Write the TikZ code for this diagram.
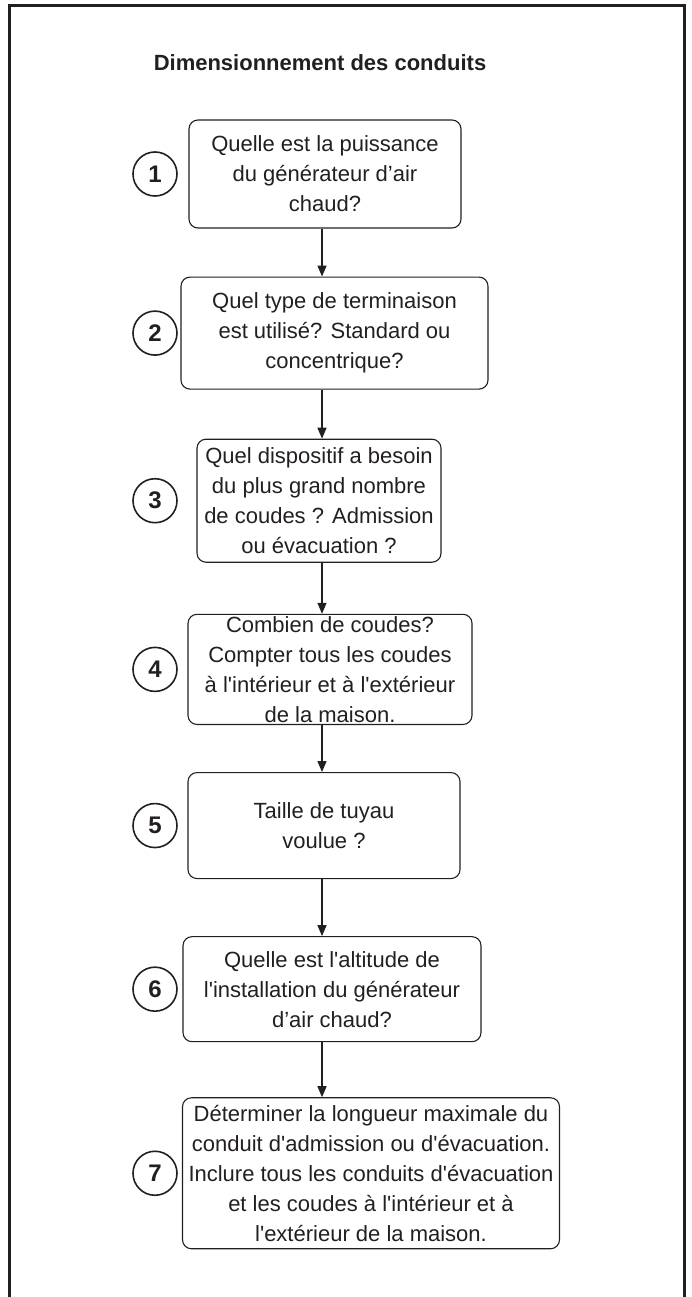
\documentclass[tikz,border=0pt]{standalone}
\usepackage{fontspec}
\setmainfont{Liberation Sans}
\usetikzlibrary{positioning,arrows.meta}
\definecolor{ink}{RGB}{35,31,32}
\tikzset{
    stepbox/.style={rectangle, rounded corners=9pt, draw=ink, line width=1.1pt, align=center, inner sep=2pt, text=ink, font=\fontsize{22}{30}\selectfont},
    num/.style={circle, draw=ink, line width=1.6pt, minimum size=44pt, inner sep=0pt, text=ink, font=\fontsize{24}{24}\selectfont\bfseries},
    arrow/.style={-{Triangle[length=11pt,width=9pt]}, line width=1.4pt, color=ink},
}
\newcommand{\sq}{\textquotesingle}

\begin{document}
\begin{tikzpicture}[x=1pt, y=-1pt]
    \useasboundingbox (0,0) rectangle (691,1297);
    % Frame, open at the bottom
    \draw[ink, line width=3pt] (9,1297) -- (9,6) -- (684,6) -- (684,1297);

    % Title
    \node[text=ink, font=\fontsize{22}{26}\selectfont\bfseries] (title) at (320,63) {Dimensionnement des conduits};

    % Columns for arrows and step numbers
    \coordinate (flow) at (322,0);
    \coordinate (numcol) at (155,0);

    % Steps
    \node[stepbox, minimum width=272pt, minimum height=108pt] (b1) at (325,174) {Quelle est la puissance\\du générateur d’air\\chaud?};
    \node[stepbox, minimum width=307pt, minimum height=112pt, below=48pt of b1, xshift=9.5pt] (b2) {Quel type de terminaison\\est utilisé? Standard ou\\concentrique?};
    \node[stepbox, minimum width=244pt, minimum height=123pt, below=49pt of b2, xshift=-15.5pt] (b3) {Quel dispositif a besoin\\du plus grand nombre\\de coudes ? Admission\\ou évacuation ?};
    \node[stepbox, minimum width=284pt, minimum height=105pt, below=51pt of b3, xshift=11pt] (b4) {Combien de coudes?\\Compter tous les coudes\\à l\sq intérieur et à l\sq extérieur\\de la maison.};
    \node[stepbox, minimum width=272pt, minimum height=106pt, below=47pt of b4, xshift=-6pt] (b5) {Taille de tuyau\\voulue ?};
    \node[stepbox, minimum width=298pt, minimum height=105pt, below=57pt of b5, xshift=8pt] (b6) {Quelle est l\sq altitude de\\l\sq installation du générateur\\d’air chaud?};
    \node[stepbox, minimum width=377pt, minimum height=151pt, below=55pt of b6, xshift=39pt] (b7) {Déterminer la longueur maximale du\\conduit d\sq admission ou d\sq évacuation.\\Inclure tous les conduits d\sq évacuation\\et les coudes à l\sq intérieur et à\\l\sq extérieur de la maison.};

    % Step numbers
    \node[num] (n1) at (numcol |- b1) {1};
    \node[num] (n2) at (numcol |- b2) {2};
    \node[num] (n3) at (numcol |- b3) {3};
    \node[num] (n4) at (numcol |- b4) {4};
    \node[num] (n5) at (numcol |- b5) {5};
    \node[num] (n6) at (numcol |- b6) {6};
    \node[num] (n7) at (numcol |- b7) {7};

    % Arrows
    \draw[arrow] (b1.south -| flow) -- (b2.north -| flow);
    \draw[arrow] (b2.south -| flow) -- (b3.north -| flow);
    \draw[arrow] (b3.south -| flow) -- (b4.north -| flow);
    \draw[arrow] (b4.south -| flow) -- (b5.north -| flow);
    \draw[arrow] (b5.south -| flow) -- (b6.north -| flow);
    \draw[arrow] (b6.south -| flow) -- (b7.north -| flow);
\end{tikzpicture}
\end{document}
